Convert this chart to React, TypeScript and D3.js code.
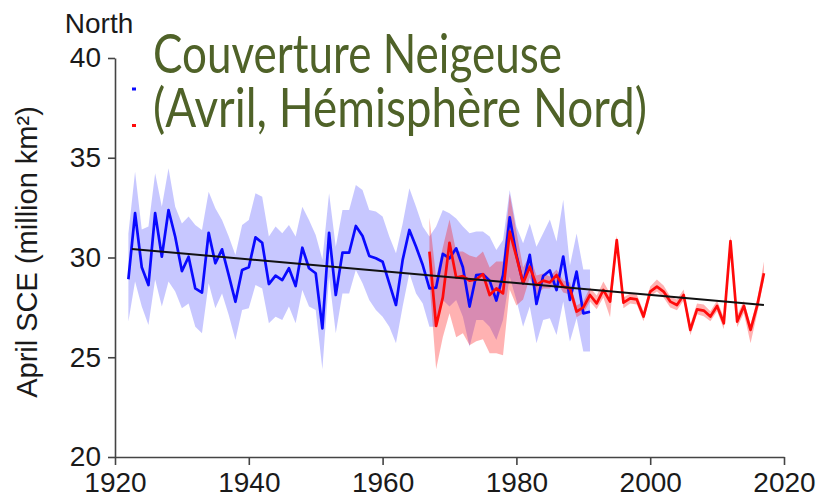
import React, { useEffect, useRef } from 'react';
import * as d3 from 'd3';

// ---------- data ----------
const blueStart = 1922;
const blueValues = [
  28.91, 32.22, 29.51, 28.62, 32.22, 30.04, 32.38, 31.04, 29.32, 30.04,
  28.45, 28.24, 31.24, 29.71, 30.41, 29.12, 27.78, 29.37, 29.51, 31.01,
  30.74, 28.67, 29.09, 28.87, 29.46, 28.57, 30.49, 29.46, 29.21, 26.45,
  31.24, 28.12, 30.24, 30.24, 31.58, 31.08, 30.08, 29.96, 29.79, 28.70,
  27.62, 29.88, 31.38, 30.54, 29.62, 28.45, 28.49, 30.18, 29.96, 30.46,
  29.51, 27.54, 29.12, 29.16, 28.84, 27.84, 29.12, 32.01, 30.13, 28.70,
  30.13, 27.67, 29.07, 29.35, 28.37, 30.05, 27.87, 29.29, 27.20, 27.28,
];
const blueHigh = [
  31.2, 34.3, 31.4, 31.55, 34.22, 32.55, 34.47, 32.55, 31.71, 32.05,
  31.63, 31.38, 33.3, 32.47, 31.88, 31.05, 30.13, 31.63, 31.88, 33.22,
  33.05, 31.05, 31.55, 31.21, 31.63, 31.05, 32.55, 31.88, 31.13, 29.9,
  33.22, 30.54, 32.38, 32.38, 33.63, 33.38, 32.38, 32.3, 32.05, 31.05,
  30.21, 31.71, 33.47, 32.55, 31.55, 31.05, 31.55, 32.38, 32.22, 31.96,
  31.55, 31.21, 31.3, 31.3, 31.05, 30.38, 30.88, 33.38, 31.55, 30.71,
  31.71, 30.54, 31.21, 31.9, 30.8, 32.9, 29.6, 31.2, 29.4, 29.4,
];
const blueLow = [
  26.79, 28.8, 27.54, 26.62, 28.9, 27.54, 28.8, 28.29, 27.45, 27.7,
  26.53, 26.2, 28.71, 27.45, 28.2, 27.12, 25.87, 27.37, 27.45, 28.62,
  28.45, 26.7, 27.03, 26.87, 27.54, 26.7, 28.37, 27.54, 27.37, 24.4,
  29.04, 26.2, 28.2, 28.2, 29.37, 28.71, 27.87, 27.37, 27.03, 26.53,
  25.7, 27.54, 29.21, 28.2, 27.7, 26.53, 26.53, 27.87, 27.54, 27.87,
  27.03, 25.53, 26.87, 26.87, 26.53, 25.87, 26.87, 29.04, 27.87, 26.53,
  27.54, 25.7, 26.87, 26.96, 26.12, 27.79, 25.79, 26.96, 25.29, 25.29,
];

const redStart = 1967;
const redValues = [
  30.29, 26.57, 28.0, 30.74, 29.0, 29.07, 28.84, 28.9, 29.17, 28.12,
  28.45, 28.2, 31.3, 30.04, 28.71, 29.54, 28.62, 28.84, 28.75, 29.12,
  28.54, 28.45, 27.29, 27.5, 28.12, 27.7, 28.37, 27.79, 30.87, 27.74,
  27.95, 27.9, 27.04, 28.29, 28.54, 28.29, 27.79, 27.62, 28.12, 26.37,
  27.4, 27.34, 27.04, 27.57, 26.7, 30.82, 26.79, 27.57, 26.37, 27.6,
  29.21,
];
const redHigh = [
  32.0, 29.0, 30.5, 31.9, 30.3, 30.3, 30.1, 30.0, 30.3, 29.5,
  29.8, 29.8, 33.2, 31.3, 29.5, 30.1, 29.1, 29.2, 29.05, 29.4,
  28.85, 28.75, 27.6, 27.8, 28.5, 28.1, 28.8, 28.2, 31.1, 28.0,
  28.2, 28.15, 27.3, 28.55, 28.9, 28.6, 28.05, 27.9, 28.4, 26.65,
  27.7, 27.65, 27.3, 27.85, 27.0, 31.1, 27.1, 27.85, 26.65, 27.9,
  29.8,
];
const redLow = [
  28.8, 24.4, 26.0, 27.2, 26.0, 26.2, 25.6, 25.8, 25.9, 25.2,
  25.2, 25.1, 28.4, 27.6, 27.9, 29.0, 28.1, 28.45, 28.45, 28.8,
  28.25, 28.15, 27.0, 27.2, 27.8, 27.4, 28.0, 27.0, 30.5, 27.45,
  27.7, 27.65, 26.8, 28.05, 28.3, 28.0, 27.5, 27.35, 27.85, 26.1,
  27.15, 27.05, 26.8, 27.3, 26.4, 30.5, 26.5, 27.2, 25.7, 27.2,
  28.9,
];

const trendYears = [1922.5, 2017];
const trendValues = [30.43, 27.62];

const xTicks = [1920, 1940, 1960, 1980, 2000, 2020];
const yTicks = [20, 25, 30, 35, 40];

const titleLines = ['Couverture Neigeuse', '(Avril, Hémisphère Nord)'];
const yAxisTitle = 'April SCE (million km²)';
const panelLabel = 'North';

// ---------- component ----------
const W = 823;
const H = 496;

type Pt = { year: number; v: number; hi: number; lo: number };

function build(start: number, vals: number[], hi: number[], lo: number[]): Pt[] {
  return vals.map((v, i) => ({ year: start + i, v, hi: hi[i], lo: lo[i] }));
}

export default function App() {
  const ref = useRef<SVGSVGElement | null>(null);

  useEffect(() => {
    const svg = d3.select(ref.current);
    svg.selectAll('*').remove();

    const x = d3.scaleLinear().domain([1920, 2020]).range([115, 784]);
    const y = d3.scaleLinear().domain([20, 40]).range([457, 58]);

    const blue = build(blueStart, blueValues, blueHigh, blueLow);
    const red = build(redStart, redValues, redHigh, redLow);

    const area = d3
      .area<Pt>()
      .x((d) => x(d.year))
      .y0((d) => y(d.lo))
      .y1((d) => y(d.hi));
    const line = d3
      .line<Pt>()
      .x((d) => x(d.year))
      .y((d) => y(d.v));

    const g = svg.append('g');

    g.append('path').attr('d', area(blue)).attr('fill', '#0000ff').attr('fill-opacity', 0.22);
    g.append('path').attr('d', area(red)).attr('fill', '#ff0000').attr('fill-opacity', 0.3);

    g.append('path')
      .attr('d', line(blue))
      .attr('fill', 'none')
      .attr('stroke', '#0a0aff')
      .attr('stroke-width', 2.7)
      .attr('stroke-linejoin', 'round');
    g.append('path')
      .attr('d', line(red))
      .attr('fill', 'none')
      .attr('stroke', '#ff0a0a')
      .attr('stroke-width', 2.7)
      .attr('stroke-linejoin', 'round');

    const trend = trendYears.map((yr, i) => [x(yr), y(trendValues[i])] as [number, number]);
    g.append('path')
      .attr('d', d3.line()(trend))
      .attr('stroke', '#111')
      .attr('stroke-width', 2)
      .attr('fill', 'none');

    // axes
    const font = '"Liberation Sans", Arial, sans-serif';
    const xAxis = d3
      .axisBottom(x)
      .tickValues(xTicks)
      .tickFormat(d3.format('d'))
      .tickSize(8)
      .tickSizeOuter(0)
      .tickPadding(7);
    const yAxis = d3
      .axisLeft(y)
      .tickValues(yTicks)
      .tickFormat(d3.format('d'))
      .tickSize(7)
      .tickSizeOuter(0)
      .tickPadding(7);

    const gx = svg.append('g').attr('transform', `translate(0,${y(20)})`).call(xAxis);
    const gy = svg.append('g').attr('transform', `translate(${x(1920)},0)`).call(yAxis);
    [gx, gy].forEach((ax) => {
      ax.select('.domain').attr('stroke', '#444').attr('stroke-width', 1.6);
      ax.selectAll('.tick line').attr('stroke', '#444').attr('stroke-width', 1.6);
      ax.selectAll('.tick text')
        .attr('font-family', font)
        .attr('font-size', 28)
        .attr('fill', '#1a1a1a');
    });

    // axis title
    svg
      .append('text')
      .attr('transform', `translate(37,${252}) rotate(-90)`)
      .attr('text-anchor', 'middle')
      .attr('font-family', font)
      .attr('font-size', 29)
      .attr('fill', '#1a1a1a')
      .text(yAxisTitle);

    svg
      .append('text')
      .attr('x', 99)
      .attr('y', 33)
      .attr('text-anchor', 'middle')
      .attr('font-family', font)
      .attr('font-size', 28)
      .attr('fill', '#1a1a1a')
      .text(panelLabel);

    // legend remnants
    svg.append('rect').attr('x', 132).attr('y', 87.5).attr('width', 4).attr('height', 3).attr('fill', '#0a0aff');
    svg.append('rect').attr('x', 132).attr('y', 124).attr('width', 4).attr('height', 3).attr('fill', '#ff0a0a');

    // title
    const titleBase = [73, 127];
    const titleWidth = [409, 494];
    titleLines.forEach((t, i) => {
      svg
        .append('text')
        .attr('x', 153)
        .attr('y', titleBase[i])
        .attr('font-family', 'Lato, "Open Sans", sans-serif')
        .attr('font-size', 55)
        .attr('fill', '#4f6228')
        .attr('textLength', titleWidth[i])
        .attr('lengthAdjust', 'spacingAndGlyphs')
        .text(t);
    });
  }, []);

  return (
    <svg
      ref={ref}
      width={W}
      height={H}
      viewBox={`0 0 ${W} ${H}`}
      style={{ position: 'absolute', left: 0, top: 0, background: '#fff' }}
    />
  );
}
